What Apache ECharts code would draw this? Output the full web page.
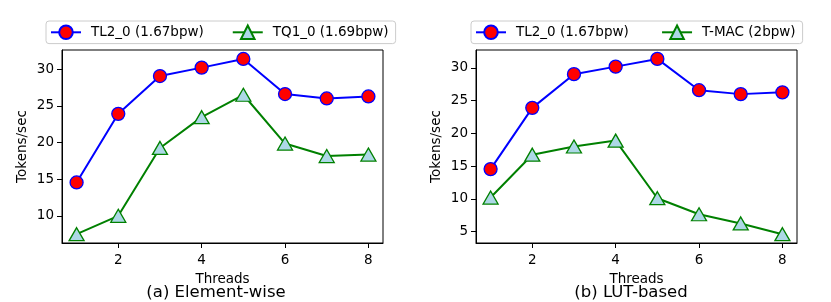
<!DOCTYPE html>
<html>
<head>
<meta charset="utf-8">
<script src="https://cdn.jsdelivr.net/npm/echarts@6/dist/echarts.min.js"></script>
<style>html,body{margin:0;padding:0;background:#fff}#c{width:831px;height:302px}</style>
</head>
<body>
<div id="c"></div>
<script>
const threads = [1, 2, 3, 4, 5, 6, 7, 8];
const tl2 = [14.55, 23.9, 29.05, 30.2, 31.38, 26.6, 26.0, 26.27];
const tq1 = [7.5, 10.0, 19.25, 23.45, 26.5, 19.85, 18.15, 18.35];
const tmac = [10.2, 16.75, 18.0, 18.9, 10.1, 7.65, 6.25, 4.6];
const xTicks = [2, 4, 6, 8];
const yTicksA = [10, 15, 20, 25, 30];
const yTicksB = [5, 10, 15, 20, 25, 30];
const nameTL2 = 'TL2_0 (1.67bpw)';
const nameTQ1 = 'TQ1_0 (1.69bpw)';
const nameTMAC = 'T-MAC (2bpw)';
const titleA = '(a) Element-wise';
const titleB = '(b) LUT-based';

const FONT = 'DejaVu Sans';
const pairs = v => threads.map((t, i) => [t, v[i]]);

function xAxis(idx) {
  return {
    type: 'value', gridIndex: idx, min: 0.65, max: 8.35,
    name: 'Threads', nameLocation: 'middle', nameGap: 29,
    nameTextStyle: {fontFamily: FONT, fontSize: 13.5, color: '#000'},
    axisLine: {show: true, lineStyle: {color: '#000', width: 1}},
    axisTick: {show: true, length: 5, customValues: xTicks, lineStyle: {color: '#000'}},
    axisLabel: {customValues: xTicks, fontFamily: FONT, fontSize: 13.5, color: '#000', margin: 10},
    splitLine: {show: false}
  };
}
function yAxis(idx, min, max, ticks) {
  return {
    type: 'value', gridIndex: idx, min: min, max: max,
    name: 'Tokens/sec', nameLocation: 'middle', nameGap: 33,
    nameTextStyle: {fontFamily: FONT, fontSize: 13.5, color: '#000'},
    axisLine: {show: true, lineStyle: {color: '#000', width: 1}},
    axisTick: {show: true, length: 5, customValues: ticks, lineStyle: {color: '#000'}},
    axisLabel: {customValues: ticks, fontFamily: FONT, fontSize: 13.5, color: '#000', margin: 8},
    splitLine: {show: false}
  };
}
function circleSeries(name, data, xi) {
  return {
    name: name, type: 'line', xAxisIndex: xi, yAxisIndex: xi, data: pairs(data),
    symbol: 'circle', symbolSize: 13, showAllSymbol: true, clip: false,
    lineStyle: {color: '#0000ff', width: 2},
    itemStyle: {color: '#ff0000', borderColor: '#0000ff', borderWidth: 1.3},
    emphasis: {disabled: true}, animation: false
  };
}
function triSeries(name, data, xi) {
  return {
    name: name, type: 'line', xAxisIndex: xi, yAxisIndex: xi, data: pairs(data),
    symbol: 'triangle', symbolSize: [15, 13], showAllSymbol: true, clip: false,
    lineStyle: {color: '#008000', width: 2},
    itemStyle: {color: '#add8e6', borderColor: '#008000', borderWidth: 1.3},
    emphasis: {disabled: true}, animation: false
  };
}
function legend(left, names, gap) {
  return {
    left: left, top: 21, orient: 'horizontal', data: names,
    itemWidth: 30, itemHeight: 17, itemGap: gap,
    padding: [3.5, 7, 3.5, 4],
    borderColor: '#cccccc', borderWidth: 1, borderRadius: 3, backgroundColor: '#fff',
    textStyle: {fontFamily: FONT, fontSize: 13.5, color: '#000', padding: [0, 0, 0, 5]},
    selectedMode: false
  };
}

const chart = echarts.init(document.getElementById('c'), null, {renderer: 'canvas'});
chart.setOption({
  backgroundColor: '#fff',
  animation: false,
  grid: [
    {left: 62, top: 50, width: 321, height: 193, show: true, borderColor: '#000', borderWidth: 1, backgroundColor: 'transparent'},
    {left: 476, top: 50, width: 321, height: 193, show: true, borderColor: '#000', borderWidth: 1, backgroundColor: 'transparent'}
  ],
  xAxis: [xAxis(0), xAxis(1)],
  yAxis: [yAxis(0, 6.3, 32.6, yTicksA), yAxis(1, 3.26, 32.74, yTicksB)],
  legend: [legend(46, [nameTL2, nameTQ1], 28), legend(471, [nameTL2 + ' ', nameTMAC], 28)],
  series: [
    circleSeries(nameTL2, tl2, 0),
    triSeries(nameTQ1, tq1, 0),
    circleSeries(nameTL2 + ' ', tl2, 1),
    triSeries(nameTMAC, tmac, 1)
  ],
  graphic: [
    {type: 'text', x: 216, y: 293, style: {text: titleA, font: '16.5px "DejaVu Sans"', fill: '#000', textAlign: 'center', textVerticalAlign: 'middle'}},
    {type: 'text', x: 631, y: 293, style: {text: titleB, font: '16.5px "DejaVu Sans"', fill: '#000', textAlign: 'center', textVerticalAlign: 'middle'}}
  ]
});
</script>
</body>
</html>
